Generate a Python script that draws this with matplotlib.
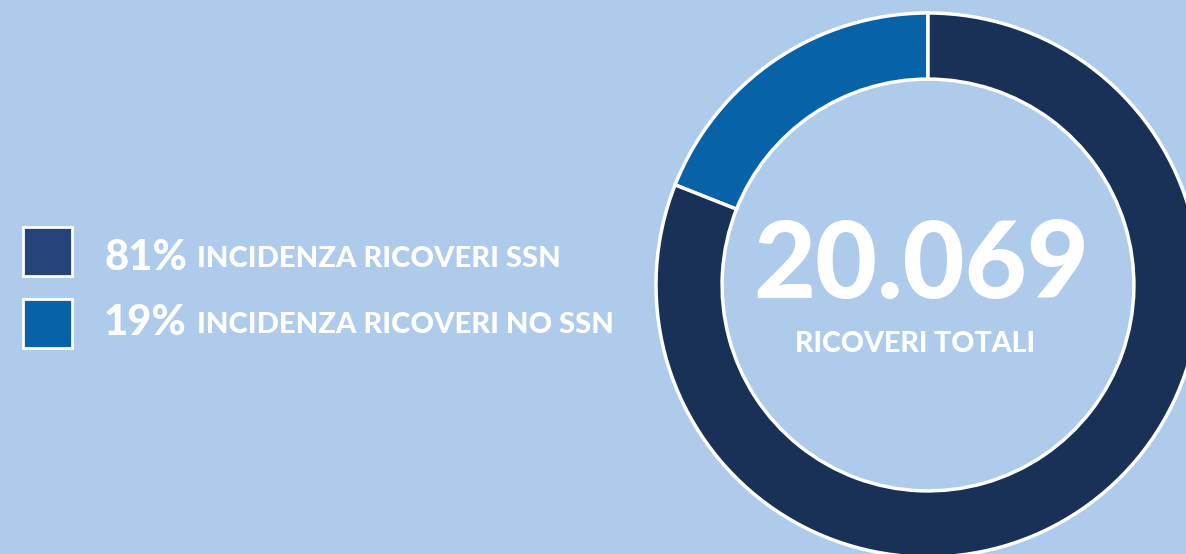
import matplotlib.pyplot as plt
from matplotlib.patches import Rectangle

# data
labels = ["INCIDENZA RICOVERI NO SSN", "INCIDENZA RICOVERI SSN"]
shares = [19, 81]
donut_colors = ["#0862A8", "#1A3157"]
legend_pcts = ["81%", "19%"]
legend_texts = ["INCIDENZA RICOVERI SSN", "INCIDENZA RICOVERI NO SSN"]
legend_colors = ["#26437A", "#0862A8"]
total_label = "20.069"
total_caption = "RICOVERI TOTALI"

BG = "#AFCBEB"
W, H = 1186, 554
FONT = ["Lato", "DejaVu Sans"]

fig = plt.figure(figsize=(W / 100, H / 100), dpi=100, facecolor=BG)

# donut axes: centre at (928, 285) px, outer radius 272 px
cx, cy, R = 928, 285, 272
ax = fig.add_axes([(cx - R) / W, (H - cy - R) / H, 2 * R / W, 2 * R / H])
ax.set_facecolor("none")
wedges, _ = ax.pie(shares, colors=donut_colors, startangle=90, counterclock=True,
                   radius=1.0, wedgeprops=dict(width=0.243, edgecolor="white", linewidth=2.5))
for w in wedges:
    w.set_clip_on(False)
ax.set_xlim(-1, 1)
ax.set_ylim(-1, 1)
ax.axis("off")

# overlay in pixel coordinates for text and legend
ov = fig.add_axes([0, 0, 1, 1])
ov.set_xlim(0, W)
ov.set_ylim(H, 0)
ov.axis("off")
ov.patch.set_alpha(0)

ov.text(921, 298, total_label, ha="center", va="baseline", color="white",
        fontsize=77, fontweight="black", family=FONT)
ov.text(915, 352, total_caption, ha="center", va="baseline", color="white",
        fontsize=20.5, fontweight="black", family=FONT)

sq_tops = [227, 299]
pct_base = [270, 335]
txt_base = [267, 333]
for i in range(len(legend_pcts)):
    ov.add_patch(Rectangle((23, sq_tops[i]), 49, 49, facecolor=legend_colors[i],
                           edgecolor="white", linewidth=2))
    ov.text(104, pct_base[i], legend_pcts[i], ha="left", va="baseline", color="white",
            fontsize=30, fontweight="black", family=FONT)
    ov.text(197, txt_base[i], legend_texts[i], ha="left", va="baseline", color="white",
            fontsize=21, fontweight="black", family=FONT)

fig.savefig("out.png", dpi=100, facecolor=BG)
